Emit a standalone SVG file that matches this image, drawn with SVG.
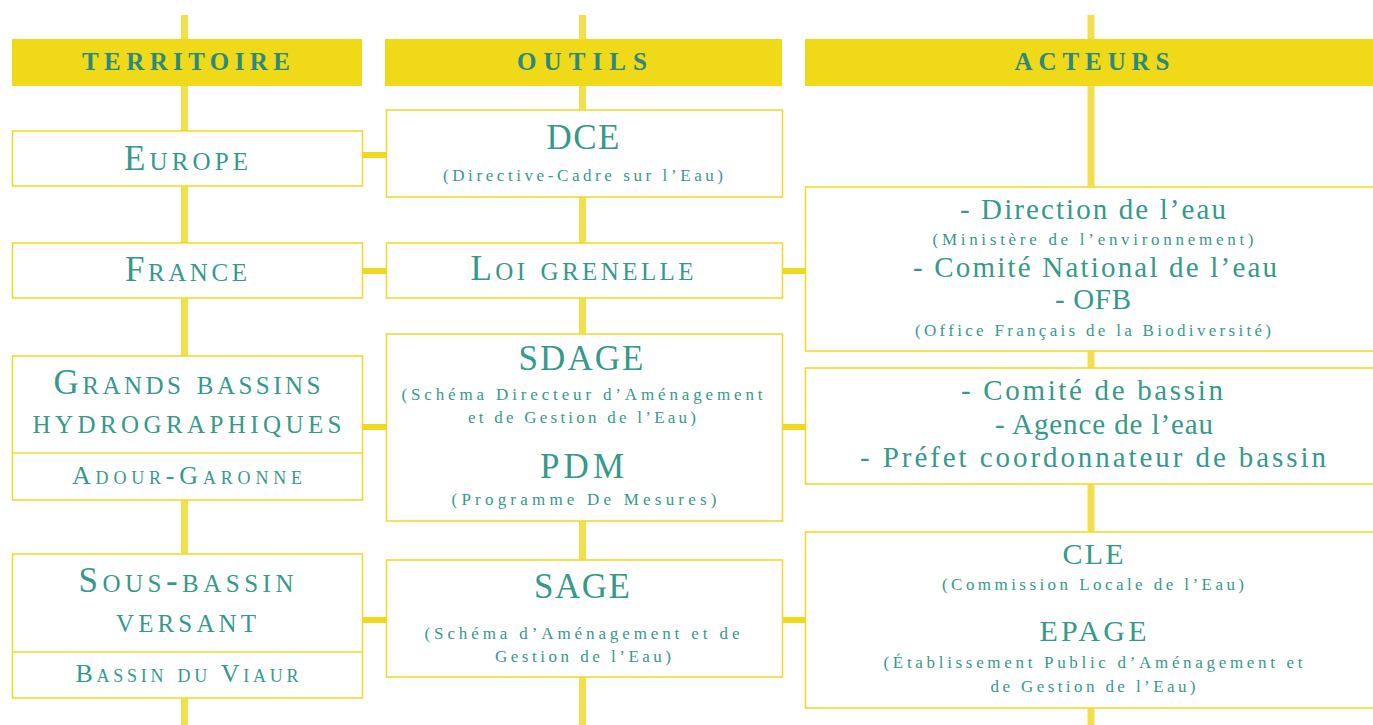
<svg xmlns="http://www.w3.org/2000/svg" width="1373" height="725" viewBox="0 0 1373 725">
<style>
.bg{fill:#ffffff}
.vline{stroke:#f3df4c;stroke-width:7;fill:none}
.hline{stroke:#f0d81c;stroke-width:6;fill:none}
.head{fill:#efd918}
.box{fill:#ffffff;stroke:#f0da30;stroke-width:1.6}
.div{stroke:#f0da30;stroke-width:1.6}
text{font-family:"Liberation Serif","DejaVu Serif",serif;fill:#35998c;text-anchor:middle}
.ht{font-size:25px;font-weight:bold;fill:#2a8a7e}
.sc{font-variant:small-caps;font-size:35px}
.sc2{font-variant:small-caps;font-size:26px}
.big{font-size:35px}
.mid{font-size:30px}
.sub{font-size:17px}
.act{font-size:29px}
.asub{font-size:17px}
</style>
<rect class="bg" x="0" y="0" width="1373" height="725"/>
<g id="connectors">
<line class="vline" x1="184.5" y1="15" x2="184.5" y2="725"/>
<line class="vline" x1="582.5" y1="15" x2="582.5" y2="725"/>
<line class="vline" x1="1091" y1="15" x2="1091" y2="725"/>
<line class="hline" x1="362" y1="155" x2="386" y2="155"/>
<line class="hline" x1="362" y1="271" x2="386" y2="271"/>
<line class="hline" x1="362" y1="427" x2="386" y2="427"/>
<line class="hline" x1="362" y1="620" x2="386" y2="620"/>
<line class="hline" x1="782" y1="271" x2="805" y2="271"/>
<line class="hline" x1="782" y1="427" x2="805" y2="427"/>
<line class="hline" x1="782" y1="620" x2="805" y2="620"/>
</g>
<g id="header-territoire">
<rect class="head" x="12" y="39" width="350" height="47"/>
<text class="ht" x="186" y="70" textLength="208" lengthAdjust="spacing">TERRITOIRE</text>
</g>
<g id="header-outils">
<rect class="head" x="385" y="39" width="397" height="47"/>
<text class="ht" x="582" y="70" textLength="130" lengthAdjust="spacing">OUTILS</text>
</g>
<g id="header-acteurs">
<rect class="head" x="805" y="39" width="568" height="47"/>
<text class="ht" x="1092" y="70" textLength="155" lengthAdjust="spacing">ACTEURS</text>
</g>
<g id="europe">
<rect class="box" x="12.5" y="131" width="350" height="55"/>
<text class="sc" x="186" y="170" textLength="124" lengthAdjust="spacing">Europe</text>
</g>
<g id="france">
<rect class="box" x="12.5" y="243" width="350" height="55"/>
<text class="sc" x="186" y="281" textLength="122" lengthAdjust="spacing">France</text>
</g>
<g id="grands-bassins">
<rect class="box" x="12.5" y="356" width="350" height="144"/>
<line class="div" x1="12.5" y1="453" x2="362.5" y2="453"/>
<text class="sc" x="187" y="394" textLength="267" lengthAdjust="spacing">Grands bassins</text>
<text class="sc" x="187" y="433" textLength="309" lengthAdjust="spacing">hydrographiques</text>
<text class="sc2" x="187" y="484" textLength="230" lengthAdjust="spacing">Adour-Garonne</text>
</g>
<g id="sous-bassin">
<rect class="box" x="12.5" y="554" width="350" height="144"/>
<line class="div" x1="12.5" y1="652" x2="362.5" y2="652"/>
<text class="sc" x="186" y="592" textLength="215" lengthAdjust="spacing">Sous-bassin</text>
<text class="sc" x="186" y="632" textLength="140" lengthAdjust="spacing">versant</text>
<text class="sc2" x="187" y="682" textLength="223" lengthAdjust="spacing">Bassin du Viaur</text>
</g>
<g id="dce">
<rect class="box" x="386.5" y="110" width="396" height="87"/>
<text class="big" x="583" y="149" textLength="73" lengthAdjust="spacing">DCE</text>
<text class="sub" x="583" y="181" textLength="280" lengthAdjust="spacing">(Directive-Cadre sur l’Eau)</text>
</g>
<g id="loi-grenelle">
<rect class="box" x="386.5" y="243" width="396" height="55"/>
<text class="sc" x="582" y="280" textLength="223" lengthAdjust="spacing">Loi grenelle</text>
</g>
<g id="sdage">
<rect class="box" x="386.5" y="334" width="396" height="187"/>
<text class="big" x="581" y="370" textLength="125" lengthAdjust="spacing">SDAGE</text>
<text class="sub" x="582" y="400" textLength="361" lengthAdjust="spacing">(Schéma Directeur d’Aménagement</text>
<text class="sub" x="582" y="423" textLength="228" lengthAdjust="spacing">et de Gestion de l’Eau)</text>
<text class="big" x="582" y="478" textLength="84" lengthAdjust="spacing">PDM</text>
<text class="sub" x="584" y="505" textLength="265" lengthAdjust="spacing">(Programme De Mesures)</text>
</g>
<g id="sage">
<rect class="box" x="386.5" y="560" width="396" height="117"/>
<text class="big" x="582" y="598" textLength="96" lengthAdjust="spacing">SAGE</text>
<text class="sub" x="582" y="639" textLength="315" lengthAdjust="spacing">(Schéma d’Aménagement et de</text>
<text class="sub" x="583" y="662" textLength="176" lengthAdjust="spacing">Gestion de l’Eau)</text>
</g>
<g id="direction-eau">
<rect class="box" x="805.5" y="187" width="580" height="164"/>
<text class="act" x="1093" y="219" textLength="266" lengthAdjust="spacing">- Direction de l’eau</text>
<text class="asub" x="1093" y="245" textLength="321" lengthAdjust="spacing">(Ministère de l’environnement)</text>
<text class="act" x="1095" y="277" textLength="364" lengthAdjust="spacing">- Comité National de l’eau</text>
<text class="act" x="1093" y="309" textLength="76" lengthAdjust="spacing">- OFB</text>
<text class="asub" x="1093" y="336" textLength="356" lengthAdjust="spacing">(Office Français de la Biodiversité)</text>
</g>
<g id="comite-bassin">
<rect class="box" x="805.5" y="368" width="580" height="116"/>
<text class="act" x="1092" y="400" textLength="262" lengthAdjust="spacing">- Comité de bassin</text>
<text class="act" x="1104" y="434" textLength="218" lengthAdjust="spacing">- Agence de l’eau</text>
<text class="act" x="1093" y="467" textLength="466" lengthAdjust="spacing">- Préfet coordonnateur de bassin</text>
</g>
<g id="cle-epage">
<rect class="box" x="805.5" y="532" width="580" height="176"/>
<text class="mid" x="1093" y="564" textLength="61" lengthAdjust="spacing">CLE</text>
<text class="asub" x="1093" y="590" textLength="302" lengthAdjust="spacing">(Commission Locale de l’Eau)</text>
<text class="mid" x="1093" y="641" textLength="107" lengthAdjust="spacing">EPAGE</text>
<text class="asub" x="1093" y="668" textLength="419" lengthAdjust="spacing">(Établissement Public d’Aménagement et</text>
<text class="asub" x="1093" y="692" textLength="205" lengthAdjust="spacing">de Gestion de l’Eau)</text>
</g>
</svg>
